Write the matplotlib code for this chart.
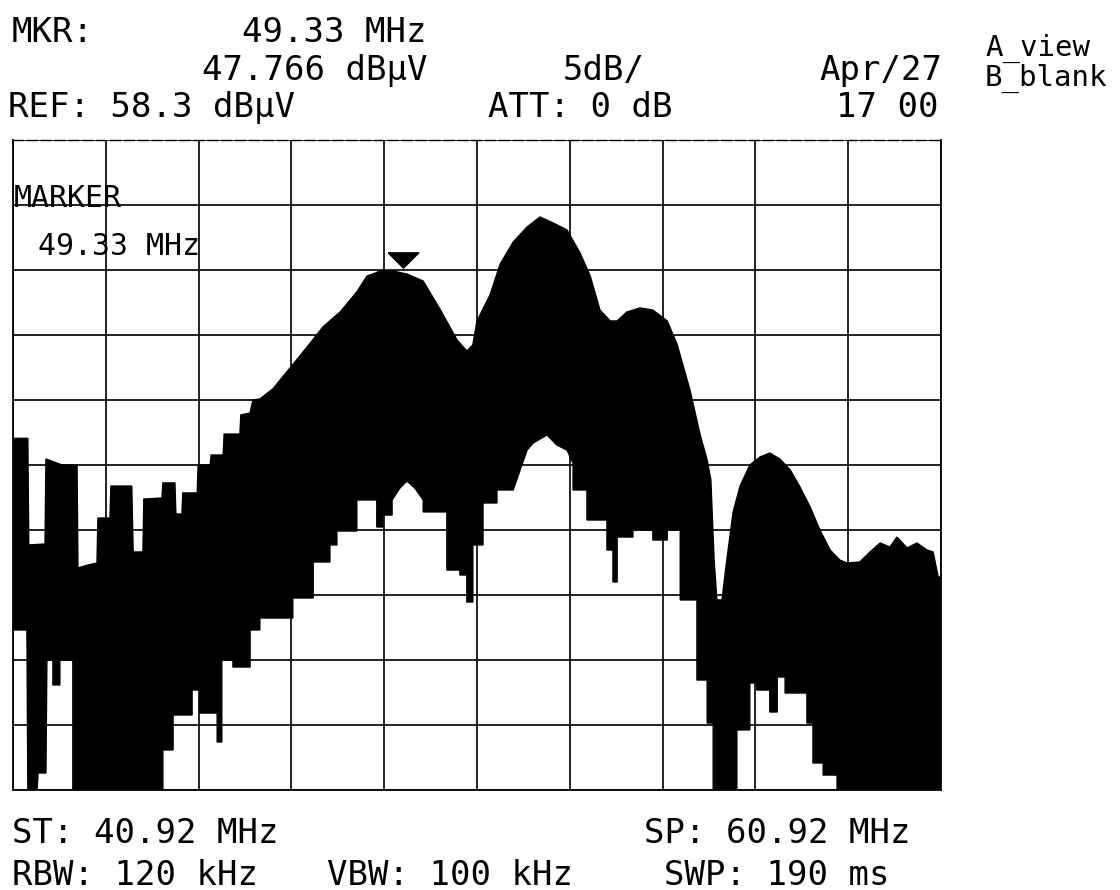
import matplotlib
matplotlib.use("Agg")
import matplotlib.pyplot as plt
import matplotlib.transforms as mtransforms
import numpy as np

# trace envelope (MHz, dBuV)
upper_mhz = [40.94, 41.24, 41.26, 41.61, 41.63, 41.98, 42.30, 42.32, 42.54, 42.73,
             42.75, 43.01, 43.03, 43.48, 43.51, 43.72, 43.74, 44.13, 44.15, 44.41,
             44.43, 44.56, 44.58, 44.89, 44.91, 45.17, 45.19, 45.45, 45.47, 45.81,
             45.83, 46.03, 46.09, 46.24, 46.52, 46.89, 47.26, 47.60, 47.97, 48.33,
             48.55, 48.68, 48.83, 49.11, 49.41, 49.76, 50.12, 50.49, 50.70, 50.83,
             50.92, 51.20, 51.42, 51.70, 52.00, 52.28, 52.56, 52.86, 53.14, 53.36,
             53.57, 53.79, 53.94, 54.15, 54.43, 54.71, 55.02, 55.23, 55.51, 55.73,
             55.88, 55.96, 56.03, 56.09, 56.20, 56.29, 56.44, 56.59, 56.80, 57.02,
             57.23, 57.45, 57.67, 57.88, 58.10, 58.31, 58.53, 58.74, 58.89, 59.17,
             59.39, 59.61, 59.82, 59.97, 60.19, 60.40, 60.62, 60.75, 60.86, 60.92]
upper_db = [35.35, 35.35, 27.15, 27.22, 33.76, 33.30, 33.30, 25.38, 25.61, 25.76,
            29.22, 29.22, 31.68, 31.68, 26.61, 26.61, 30.68, 30.76, 31.92, 31.92,
            29.53, 29.53, 31.15, 31.15, 33.30, 33.30, 34.07, 34.07, 35.68, 35.68,
            37.15, 37.30, 38.30, 38.38, 39.15, 40.76, 42.38, 43.92, 45.07, 46.61,
            47.84, 47.99, 48.22, 48.22, 47.99, 47.45, 45.30, 42.92, 42.07, 42.53,
            44.38, 46.38, 48.76, 50.45, 51.61, 52.38, 51.92, 51.38, 49.61, 47.84,
            45.22, 44.38, 44.38, 45.07, 45.38, 45.22, 44.38, 42.61, 39.07, 35.61,
            33.68, 32.15, 25.99, 22.92, 22.92, 25.61, 29.69, 31.68, 33.30, 33.92,
            34.22, 33.76, 32.92, 31.61, 30.07, 28.30, 26.76, 25.99, 25.76, 25.84,
            26.61, 27.30, 26.99, 27.76, 26.92, 27.30, 26.76, 26.61, 24.68, 24.68]

lower_mhz = [40.94, 41.22, 41.24, 41.44, 41.46, 41.63, 41.65, 41.78, 41.78, 41.93,
             41.93, 42.21, 42.21, 44.15, 44.15, 44.37, 44.37, 44.78, 44.78, 44.95,
             44.95, 45.32, 45.32, 45.42, 45.42, 45.66, 45.66, 46.03, 46.03, 46.24,
             46.24, 46.95, 46.95, 47.39, 47.39, 47.75, 47.75, 47.90, 47.90, 48.33,
             48.33, 48.76, 48.76, 48.89, 48.89, 49.09, 49.09, 49.26, 49.41, 49.58,
             49.76, 49.76, 50.27, 50.27, 50.55, 50.55, 50.70, 50.70, 50.83, 50.83,
             51.05, 51.05, 51.35, 51.35, 51.70, 51.85, 52.00, 52.13, 52.43, 52.64,
             52.86, 52.99, 52.99, 53.29, 53.29, 53.72, 53.72, 53.85, 53.85, 53.94,
             53.94, 54.28, 54.28, 54.71, 54.71, 55.02, 55.02, 55.30, 55.30, 55.66,
             55.66, 55.88, 55.88, 56.01, 56.01, 56.52, 56.52, 56.80, 56.80, 56.95,
             56.95, 57.23, 57.23, 57.39, 57.39, 57.56, 57.56, 58.03, 58.03, 58.16,
             58.16, 58.38, 58.38, 58.68, 58.68, 60.92]
lower_db = [20.61, 20.61, 8.30, 8.30, 9.61, 9.61, 18.30, 18.30, 16.38, 16.38,
            18.30, 18.30, 8.30, 8.30, 11.38, 11.38, 14.07, 14.07, 15.99, 15.99,
            14.22, 14.22, 11.99, 11.99, 18.30, 18.30, 17.76, 17.76, 20.61, 20.61,
            21.53, 21.53, 23.07, 23.07, 25.84, 25.84, 27.15, 27.15, 28.22, 28.22,
            30.61, 30.61, 28.53, 28.53, 29.45, 29.45, 30.61, 31.53, 32.07, 31.53,
            30.61, 29.69, 29.69, 25.22, 25.22, 24.84, 24.84, 22.76, 22.76, 27.15,
            27.15, 30.38, 30.38, 31.38, 31.38, 32.92, 34.45, 34.99, 35.61, 34.84,
            34.45, 33.45, 31.38, 31.38, 29.07, 29.07, 26.76, 26.76, 24.30, 24.30,
            27.76, 27.76, 28.30, 28.30, 27.53, 27.53, 28.30, 28.30, 22.92, 22.92,
            16.76, 16.76, 13.45, 13.45, 8.30, 8.30, 12.92, 12.92, 16.53, 16.53,
            15.99, 15.99, 14.30, 14.30, 16.99, 16.99, 15.76, 15.76, 13.45, 13.45,
            10.38, 10.38, 9.45, 9.45, 8.30, 8.30]

start_mhz = 40.92
stop_mhz = 60.92
ref_level = 58.3
db_per_div = 5
mkr_freq = 49.33
mkr_level = 47.766

W, H = 1120, 890
fig = plt.figure(figsize=(W / 100, H / 100), dpi=100)
ax = fig.add_axes([13 / W, 100 / H, 928 / W, 650 / H])

ax.set_xlim(start_mhz, stop_mhz)
ax.set_ylim(ref_level - 10 * db_per_div, ref_level)
ax.set_xticks(np.linspace(start_mhz, stop_mhz, 11))
ax.set_yticks(np.linspace(ref_level - 10 * db_per_div, ref_level, 11))
ax.tick_params(length=0, labelbottom=False, labelleft=False)
ax.grid(True, color='#111111', lw=1.3)
ax.set_axisbelow(True)
for side in ['left', 'right', 'bottom']:
    ax.spines[side].set_linewidth(1.3)
ax.spines['top'].set_linewidth(1.0)
ax.spines['top'].set_linestyle((0, (7, 3)))

# trace: area between upper and lower envelope
xs = np.concatenate([upper_mhz, lower_mhz[::-1]])
ys = np.concatenate([upper_db, lower_db[::-1]])
ax.fill(xs, ys, color='black', lw=1.0, zorder=3)

# marker symbol sitting on top of the trace
tri = [(-1, 0.5), (1, 0.5), (0, -0.5), (-1, 0.5)]
above = mtransforms.offset_copy(ax.transData, fig=fig, x=0, y=12, units='points')
ax.plot([mkr_freq], [mkr_level], marker=tri, ms=22, color='black',
        transform=above, zorder=4, clip_on=False)


def label(x, y, s, size=24.5, ha='left'):
    fig.text(x / W, 1 - y / H, s, fontsize=size, ha=ha, va='baseline',
             family='DejaVu Sans Mono', color='black')


label(12, 42, 'MKR:')
label(427, 42, f'{mkr_freq:.2f} MHz', ha='right')
label(427, 80, f'{mkr_level:.3f} dBµV', ha='right')
label(563, 80, f'{db_per_div}dB/')
label(942, 80, 'Apr/27', ha='right')
label(8, 117, f'REF: {ref_level} dBµV')
label(488, 117, 'ATT: 0 dB')
label(938, 117, '17 00', ha='right')
label(985, 56, 'A_view', size=21)
label(985, 86, 'B_blank', size=21)
label(14, 207, 'MARKER', size=21.5)
label(38, 255, f'{mkr_freq:.2f} MHz', size=21.5)
label(12, 843, f'ST: {start_mhz:.2f} MHz')
label(910, 843, f'SP: {stop_mhz:.2f} MHz', ha='right')
label(12, 885, 'RBW: 120 kHz')
label(327, 885, 'VBW: 100 kHz')
label(890, 885, 'SWP: 190 ms', ha='right')

fig.savefig('out.png', dpi=100)
